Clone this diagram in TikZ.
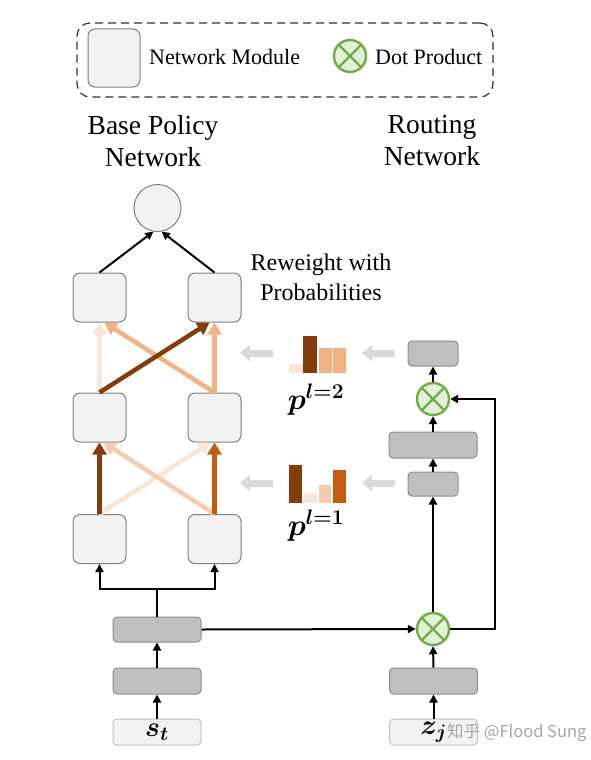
\RequirePackage{fix-cm}
\documentclass[tikz,border=0pt]{standalone}
\usepackage{amsmath}
\usepackage{fontspec}
\setmainfont{Liberation Serif}
\newfontfamily\cjkwm{Noto Sans CJK SC}
\usetikzlibrary{arrows.meta,calc}
\definecolor{modfill}{HTML}{F2F2F2}
\definecolor{modline}{HTML}{7F7F7F}
\definecolor{gfill}{HTML}{BFBFBF}
\definecolor{gline}{HTML}{8C8C8C}
\definecolor{dotfill}{HTML}{E2F0D9}
\definecolor{dotline}{HTML}{70AD47}
\definecolor{cdark}{HTML}{843C0C}
\definecolor{corange}{HTML}{C55A11}
\definecolor{clight}{HTML}{F4B183}
\definecolor{cmid}{HTML}{F8CBAD}
\definecolor{cpale}{HTML}{FBE5D6}
\definecolor{garrow}{HTML}{D9D9D9}
\definecolor{wmark}{HTML}{A6A6A6}
\tikzset{
  module/.style={draw=modline,fill=modfill,line width=1pt,rounded corners=7pt,minimum width=53pt,minimum height=49pt,inner sep=0pt},
  gbox/.style={draw=gline,fill=gfill,line width=1pt,rounded corners=4pt,minimum height=25pt,inner sep=0pt},
  inbox/.style={draw=gfill,fill=modfill,line width=1pt,rounded corners=4pt,minimum width=88pt,minimum height=26pt,inner sep=0pt},
  dotp/.style={circle,draw=dotline,fill=dotfill,line width=2.4pt,minimum size=32pt,inner sep=0pt,
    path picture={\draw[dotline,line width=2.4pt] (path picture bounding box.north west)--(path picture bounding box.south east)
      (path picture bounding box.north east)--(path picture bounding box.south west);}},
  blk/.style={line width=2pt,-{Triangle[length=8pt,width=8pt]}},
  wire/.style={line width=2pt},
  carrow/.style={line width=4.5pt,-{Triangle[length=12pt,width=14pt]}},
  garr/.style={garrow,line width=7pt,-{Triangle[length=10pt,width=16pt]}},
  bar/.style={inner sep=0pt,anchor=south west}
}
\begin{document}
\begin{tikzpicture}[x=1pt,y=-1pt]
\useasboundingbox (0,0) rectangle (590,760);
% legend
\node[draw=black!80,dashed,dash pattern=on 8pt off 5pt,line width=1.2pt,rounded corners=13pt,minimum width=416pt,minimum height=74pt] (legend) at (285,60) {};
\node[module,minimum width=52pt,minimum height=58pt] (legmod) at (114,58) {};
\node[anchor=west,inner sep=0pt,font=\fontsize{22}{26}\selectfont] (legmodtxt) at (149,57) {Network Module};
\node[dotp] (legdot) at (350,56) {};
\node[anchor=west,inner sep=0pt,font=\fontsize{22}{26}\selectfont] (legdottxt) at (375,57) {Dot Product};
% titles
\node[align=center,font=\fontsize{27.5}{32}\selectfont] (t_base) at (153,141) {Base Policy\\Network};
\node[align=center,font=\fontsize{27.5}{32}\selectfont] (t_rout) at (432,141) {Routing\\Network};
\node[align=center,font=\fontsize{24}{30}\selectfont] (t_rew) at (321,277) {Reweight with\\Probabilities};
% base policy network
\node[circle,draw=modline,fill=modfill,line width=1pt,minimum size=47pt,inner sep=0pt] (o) at (157.5,208) {};
\node[module] (t1) at (99.5,297.5) {};
\node[module] (t2) at (214.5,297.5) {};
\node[module] (m1) at (99.5,417.5) {};
\node[module] (m2) at (214.5,417.5) {};
\node[module] (b1) at (99.5,539) {};
\node[module] (b2) at (214.5,539) {};
\node[gbox,minimum width=88pt] (ga) at (157,629.5) {};
\node[gbox,minimum width=88pt,minimum height=26pt] (gb) at (157,681) {};
\node[inbox,font=\fontsize{28}{30}\selectfont] (st) at (157,732) {$\boldsymbol{s_t}$};
% routing network
\node[inbox,font=\fontsize{28}{30}\selectfont] (zj) at (433.5,732) {$\boldsymbol{z_j}$};
\node[gbox,minimum width=88pt,minimum height=26pt] (rb) at (433.5,681) {};
\node[dotp] (d1) at (433,629) {};
\node[gbox,minimum width=50pt,minimum height=24pt] (r1) at (433,484) {};
\node[gbox,minimum width=88pt,minimum height=26pt] (r2) at (433,445) {};
\node[dotp] (d2) at (433,399) {};
\node[gbox,minimum width=50pt,minimum height=25pt] (r3) at (433,353.5) {};
% black connectors
\draw[blk] (st.north) -- (gb.south);
\draw[blk] (gb.north) -- (ga.south);
\coordinate (j) at (157,589);
\draw[wire] (ga.north) -- (j);
\draw[blk] (j) -| (b1.south);
\draw[blk] (j) -| (b2.south);
\draw[blk] (ga.east) -- (d1.west);
\draw[blk] (zj.north) -- (rb.south);
\draw[blk] (rb.north) -- (d1.south);
\draw[blk] (d1.north) -- (r1.south);
\draw[blk] (r1.north) -- (r2.south);
\draw[blk] (r2.north) -- (d2.south);
\draw[blk] (d2.north) -- (r3.south);
\coordinate (fb) at (495,629);
\draw[blk] (d1.east) -- (fb) |- (d2.east);
\draw[blk] (t1.north) -- (o.-100);
\draw[blk] (t2.north) -- (o.-80);
% layer 1 colored arrows
\draw[carrow,cpale] (b1.north) -- ($(m2.south)+(-4,0)$);
\draw[carrow,cmid] (b2.north) -- ($(m1.south)+(4,0)$);
\draw[carrow,cdark] (b1.north) -- (m1.south);
\draw[carrow,corange] (b2.north) -- (m2.south);
% layer 2 colored arrows
\draw[carrow,cpale] (m1.north) -- (t1.south);
\draw[carrow,clight] (m2.north) -- (t2.south);
\draw[carrow,clight] (m2.north) -- ($(t1.south)+(5,0)$);
\draw[carrow,cdark] (m1.north) -- ($(t2.south)+(-5,0)$);
% probability bars l=2
\node[bar,fill=cpale,minimum width=14pt,minimum height=9pt] (p2a) at (289,373) {};
\node[bar,fill=cdark,minimum width=14pt,minimum height=37pt] (p2b) at (303,373) {};
\node[bar,fill=clight,minimum width=13pt,minimum height=25pt] (p2c) at (319,373) {};
\node[bar,fill=clight,minimum width=13pt,minimum height=25pt] (p2d) at (333,373) {};
\node[font=\fontsize{30}{32}\selectfont] (p2) at (316,400) {$\boldsymbol{p^{l=2}}$};
% probability bars l=1
\node[bar,fill=cdark,minimum width=13pt,minimum height=38pt] (p1a) at (289,503) {};
\node[bar,fill=cpale,minimum width=13pt,minimum height=10pt] (p1b) at (304,503) {};
\node[bar,fill=cmid,minimum width=12pt,minimum height=18pt] (p1c) at (319,503) {};
\node[bar,fill=corange,minimum width=13pt,minimum height=33pt] (p1d) at (333,503) {};
\node[font=\fontsize{30}{32}\selectfont] (p1) at (316,526) {$\boldsymbol{p^{l=1}}$};
% gray arrows
\coordinate (g2a) at (395,353);
\coordinate (g2b) at (362,353);
\coordinate (g2c) at (273,353);
\coordinate (g2d) at (240,353);
\draw[garr] (g2a) -- (g2b);
\draw[garr] (g2c) -- (g2d);
\coordinate (g1a) at (395,483);
\coordinate (g1b) at (362,483);
\coordinate (g1c) at (273,483);
\coordinate (g1d) at (240,483);
\draw[garr] (g1a) -- (g1b);
\draw[garr] (g1c) -- (g1d);
% watermark
\node[anchor=west,inner sep=0pt,text=wmark,font=\cjkwm\fontsize{16.5}{18}\selectfont] (wm) at (447,733) {知乎 @Flood Sung};
\end{tikzpicture}
\end{document}
